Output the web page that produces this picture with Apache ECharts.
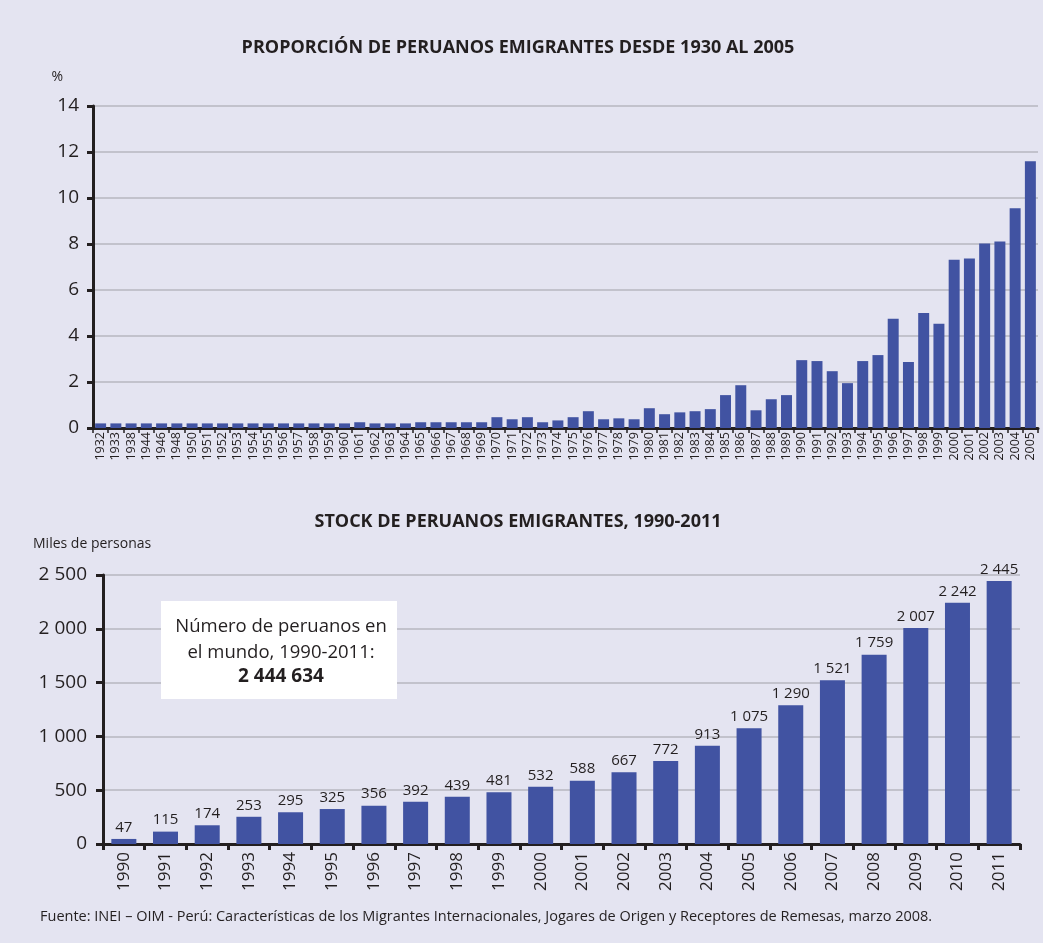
<!DOCTYPE html>
<html>
<head>
<meta charset="utf-8">
<title>Peruanos emigrantes</title>
<script src="https://cdn.jsdelivr.net/npm/echarts@6/dist/echarts.min.js"></script>
<style>
    html, body { margin: 0; padding: 0; background: #e4e4f1; }
    #main { width: 1043px; height: 943px; }
</style>
</head>
<body>
<div id="main"></div>
<script>
// proporción de emigrantes (%), 1932-2005
var propYears = ['1932', '1933', '1938', '1944', '1946', '1948', '1950', '1951', '1952', '1953',
    '1954', '1955', '1956', '1957', '1958', '1959', '1960', '1061', '1962', '1963',
    '1964', '1965', '1966', '1967', '1968', '1969', '1970', '1971', '1972', '1973',
    '1974', '1975', '1976', '1977', '1978', '1979', '1980', '1981', '1982', '1983',
    '1984', '1985', '1986', '1987', '1988', '1989', '1990', '1991', '1992', '1993',
    '1994', '1995', '1996', '1997', '1998', '1999', '2000', '2001', '2002', '2003',
    '2004', '2005'];
var propValues = [0.2, 0.2, 0.2, 0.2, 0.2, 0.2, 0.2, 0.2, 0.2, 0.2,
    0.2, 0.2, 0.2, 0.2, 0.2, 0.2, 0.2, 0.25, 0.2, 0.2,
    0.2, 0.25, 0.25, 0.25, 0.25, 0.25, 0.47, 0.38, 0.47, 0.25,
    0.33, 0.47, 0.73, 0.38, 0.42, 0.38, 0.86, 0.6, 0.68, 0.73,
    0.82, 1.43, 1.86, 0.77, 1.25, 1.43, 2.95, 2.91, 2.47, 1.95,
    2.91, 3.17, 4.75, 2.87, 5.0, 4.53, 7.32, 7.37, 8.02, 8.11,
    9.55, 11.6];

// stock de emigrantes (miles de personas), 1990-2011
var stockYears = ['1990', '1991', '1992', '1993', '1994', '1995', '1996', '1997', '1998', '1999',
    '2000', '2001', '2002', '2003', '2004', '2005', '2006', '2007', '2008', '2009', '2010', '2011'];
var stockValues = [47, 115, 174, 253, 295, 325, 356, 392, 439, 481,
    532, 588, 667, 772, 913, 1075, 1290, 1521, 1759, 2007, 2242, 2445];

var propTicks = {min: 0, max: 14, interval: 2};
var stockTicks = {min: 0, max: 2500, interval: 500};

var FONT = '"Open Sans", "Noto Sans", sans-serif';
var INK = '#231f20';
var BAR = '#4153a2';

function miles(v) {
    return String(v).replace(/\B(?=(\d{3})+(?!\d))/g, ' ');
}

var myChart = echarts.init(document.getElementById('main'));

var option = {
    backgroundColor: '#e4e4f1',
    textStyle: {fontFamily: FONT, color: INK},
    title: [
        {
            text: 'PROPORCIÓN DE PERUANOS EMIGRANTES DESDE 1930 AL 2005',
            left: 513, top: 34, textAlign: 'center',
            textStyle: {fontFamily: FONT, fontSize: 18, fontWeight: 'bold', color: INK}
        },
        {
            text: 'STOCK DE PERUANOS EMIGRANTES, 1990-2011',
            left: 513, top: 508, textAlign: 'center',
            textStyle: {fontFamily: FONT, fontSize: 18, fontWeight: 'bold', color: INK}
        }
    ],
    grid: [
        {left: 93, right: 5, top: 106, bottom: 515},
        {left: 103, right: 23, top: 575, bottom: 99}
    ],
    xAxis: [
        {
            type: 'category', gridIndex: 0, data: propYears,
            axisLine: {lineStyle: {color: INK, width: 3}},
            axisTick: {show: true, length: 5, lineStyle: {color: INK, width: 1.5}},
            axisLabel: {rotate: 90, fontSize: 12.5, color: INK, fontFamily: FONT, interval: 0, margin: 4}
        },
        {
            type: 'category', gridIndex: 1, data: stockYears,
            axisLine: {lineStyle: {color: INK, width: 3}},
            axisTick: {show: true, length: 6, lineStyle: {color: INK, width: 3}},
            axisLabel: {rotate: 90, fontSize: 17, color: INK, fontFamily: FONT, interval: 0, margin: 8}
        }
    ],
    yAxis: [
        {
            type: 'value', gridIndex: 0,
            min: propTicks.min, max: propTicks.max, interval: propTicks.interval,
            name: '%', nameLocation: 'end', nameGap: 22,
            nameTextStyle: {fontSize: 14, color: INK, align: 'right', padding: [0, 30, 0, 0]},
            axisLine: {show: true, lineStyle: {color: INK, width: 3}},
            axisTick: {show: true, length: 6, lineStyle: {color: INK, width: 3}},
            axisLabel: {fontSize: 19, color: INK, fontFamily: FONT, margin: 14},
            splitLine: {lineStyle: {color: '#c2c2cc', width: 2}}
        },
        {
            type: 'value', gridIndex: 1,
            min: stockTicks.min, max: stockTicks.max, interval: stockTicks.interval,
            name: 'Miles de personas', nameLocation: 'end', nameGap: 24,
            nameTextStyle: {fontSize: 14, color: INK, align: 'left', padding: [0, 0, 0, -70]},
            axisLine: {show: true, lineStyle: {color: INK, width: 3}},
            axisTick: {show: true, length: 7, lineStyle: {color: INK, width: 3}},
            axisLabel: {fontSize: 19, color: INK, fontFamily: FONT, margin: 16, formatter: miles},
            splitLine: {lineStyle: {color: '#c2c2cc', width: 2}}
        }
    ],
    series: [
        {
            name: 'Proporción', type: 'bar', xAxisIndex: 0, yAxisIndex: 0,
            data: propValues, barWidth: '72%',
            itemStyle: {color: BAR}
        },
        {
            name: 'Stock', type: 'bar', xAxisIndex: 1, yAxisIndex: 1,
            data: stockValues, barWidth: '60%',
            itemStyle: {color: BAR},
            label: {
                show: true, position: 'top', distance: 4,
                fontSize: 15, color: INK, fontFamily: FONT,
                formatter: function (p) { return miles(p.value); }
            }
        }
    ],
    graphic: [
        {
            type: 'rect', left: 161, top: 601, z: 100,
            shape: {width: 236, height: 98},
            style: {fill: '#ffffff'}
        },
        {
            type: 'text', z: 101,
            style: {
                text: 'Número de peruanos en\nel mundo, 1990-2011:',
                x: 281, y: 614,
                textAlign: 'center', textVerticalAlign: 'top',
                font: '18.5px ' + FONT, fill: INK, lineHeight: 26
            }
        },
        {
            type: 'text', z: 101,
            style: {
                text: '2 444 634',
                x: 281, y: 667,
                textAlign: 'center', textVerticalAlign: 'top',
                font: 'bold 19px ' + FONT, fill: INK
            }
        },
        {
            type: 'text', z: 101,
            style: {
                text: 'Fuente: INEI – OIM - Perú: Características de los Migrantes Internacionales, Jogares de Origen y Receptores de Remesas, marzo 2008.',
                x: 40, y: 909,
                font: '14.5px ' + FONT, fill: INK
            }
        }
    ]
};

myChart.setOption(option);
</script>
</body>
</html>
